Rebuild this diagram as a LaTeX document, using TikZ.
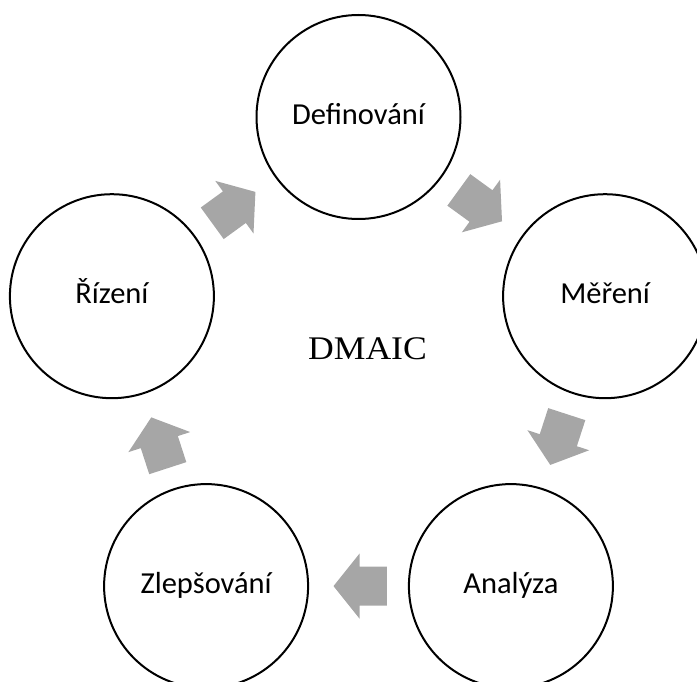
\documentclass[tikz,border=0pt]{standalone}
\usepackage{fontspec}
\usepackage{graphicx}
\setmainfont{Carlito}
\newfontfamily\dmaicfont{Liberation Serif}
\usetikzlibrary{calc}
\definecolor{arrowgray}{RGB}{166,166,166}
\tikzset{
  stage/.style={circle, draw=black, line width=2pt, fill=white,
    minimum size=204pt, inner sep=0pt, text height=15pt, text depth=0pt,
    font=\fontsize{30.5}{36}\selectfont},
  cyclearrow/.style={fill=arrowgray, draw=none},
  title/.style={anchor=base, inner sep=0pt, font=\dmaicfont\fontsize{33}{38}\selectfont},
}
% block arrow between two stages, centred near the midpoint of their centres
\newcommand\stagearrow[2]{%
  \coordinate (#1-#2-m) at ($(#1)!0.5!(#2)$);
  \coordinate (#1-#2-t) at ($(#1-#2-m)!25pt!(#2)$);
  \coordinate (#1-#2-h) at ($(#1-#2-m)!1pt!(#1)$);
  \coordinate (#1-#2-e) at ($(#1-#2-m)!28.4pt!(#1)$);
  \fill[cyclearrow] (#1-#2-t)
    -- ($(#1-#2-h)!32.5pt!90:(#2)$)
    -- ($(#1-#2-h)!19.5pt!90:(#2)$)
    -- ($(#1-#2-e)!19.5pt!90:(#1-#2-t)$)
    -- ($(#1-#2-e)!19.5pt!-90:(#1-#2-t)$)
    -- ($(#1-#2-h)!19.5pt!-90:(#2)$)
    -- ($(#1-#2-h)!32.5pt!-90:(#2)$)
    -- cycle;
}
\begin{document}
\begin{tikzpicture}[x=1pt,y=-1pt]
  \useasboundingbox (0,0) rectangle (697,682);
  \clip (0,0) rectangle (697,682);

  % five stages on a regular pentagon
  \node[stage] (D) at (358.5,117.0) {Definování};
  \node[stage] (M) at (605.1,296.2) {Měření};
  \node[stage] (A) at (510.9,586.1) {Analýza};
  \node[stage] (I) at (206.1,586.1) {Zlepšování};
  \node[stage] (C) at (111.9,296.2) {Řízení};

  \node[title] (dmaic) at (367.5,359.3) {\scalebox{1.08}[1]{DMAIC}};

  % clockwise cycle
  \stagearrow{D}{M}
  \stagearrow{M}{A}
  \stagearrow{A}{I}
  \stagearrow{I}{C}
  \stagearrow{C}{D}
\end{tikzpicture}
\end{document}
